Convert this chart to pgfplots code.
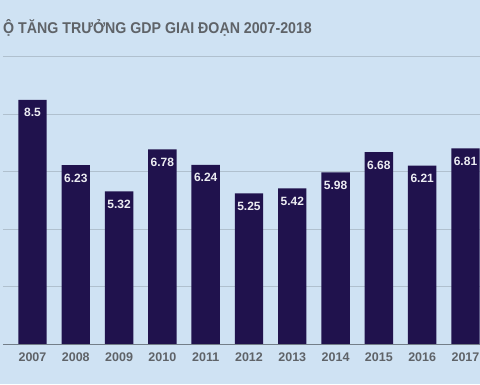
\documentclass[border=0pt]{standalone}
\usepackage{fontspec}
\setmainfont{Liberation Sans}
\newfontfamily\titlefont[FakeStretch=0.91]{Liberation Sans}
\usepackage{pgfplots}
\pgfplotsset{compat=1.18}
\definecolor{bg}{HTML}{CFE2F3}
\definecolor{barc}{HTML}{20124D}
\definecolor{gridc}{HTML}{B0C0CE}
\definecolor{basec}{HTML}{737E88}
\definecolor{txtc}{HTML}{5F6368}
\definecolor{lblc}{HTML}{ECECF2}
\begin{document}
\begin{tikzpicture}[x=1pt,y=1pt]
\useasboundingbox (0,0) rectangle (480,384);
\clip (0,0) rectangle (480,384);
\fill[bg] (0,0) rectangle (480,384);
\node[anchor=base west, inner sep=0, font=\titlefont\bfseries\fontsize{15.6}{19}\selectfont, text=txtc] at (3,350) {Ộ TĂNG TRƯỞNG GDP GIAI ĐOẠN 2007-2018};
\begin{axis}[
  at={(3pt,39.7pt)}, anchor=south west,
  scale only axis, width=478pt, height=287.6pt,
  xmin=-0.681, xmax=10.358, ymin=0, ymax=10,
  enlargelimits=false,
  axis lines*=left, axis line style={draw=none},
  ybar, bar width=28.4pt,
  ytick={2,4,6,8,10}, yticklabels={},
  ymajorgrids, grid style={gridc, line width=1.1pt},
  major tick length=0pt,
  xtick={0,1,2,3,4,5,6,7,8,9,10},
  xticklabels={2007,2008,2009,2010,2011,2012,2013,2014,2015,2016,2017},
  xticklabel style={anchor=base, yshift=-17.5pt, font=\bfseries\fontsize{12.5}{15}\selectfont, text=txtc},
  tick style={draw=none},
]
\addplot[fill=barc, draw=none, nodes near coords, point meta=explicit symbolic,
  every node near coord/.append style={anchor=base, yshift=-17pt, text=lblc, font=\bfseries\fontsize{12}{14}\selectfont}]
  coordinates {
   (0,8.5) [8.5]
   (1,6.23) [6.23]
   (2,5.32) [5.32]
   (3,6.78) [6.78]
   (4,6.24) [6.24]
   (5,5.25) [5.25]
   (6,5.42) [5.42]
   (7,5.98) [5.98]
   (8,6.68) [6.68]
   (9,6.21) [6.21]
   (10,6.81) [6.81]
  };
\draw[basec, line width=1.1pt] (axis cs:-0.681,0) -- (axis cs:10.358,0);
\end{axis}
\end{tikzpicture}
\end{document}
